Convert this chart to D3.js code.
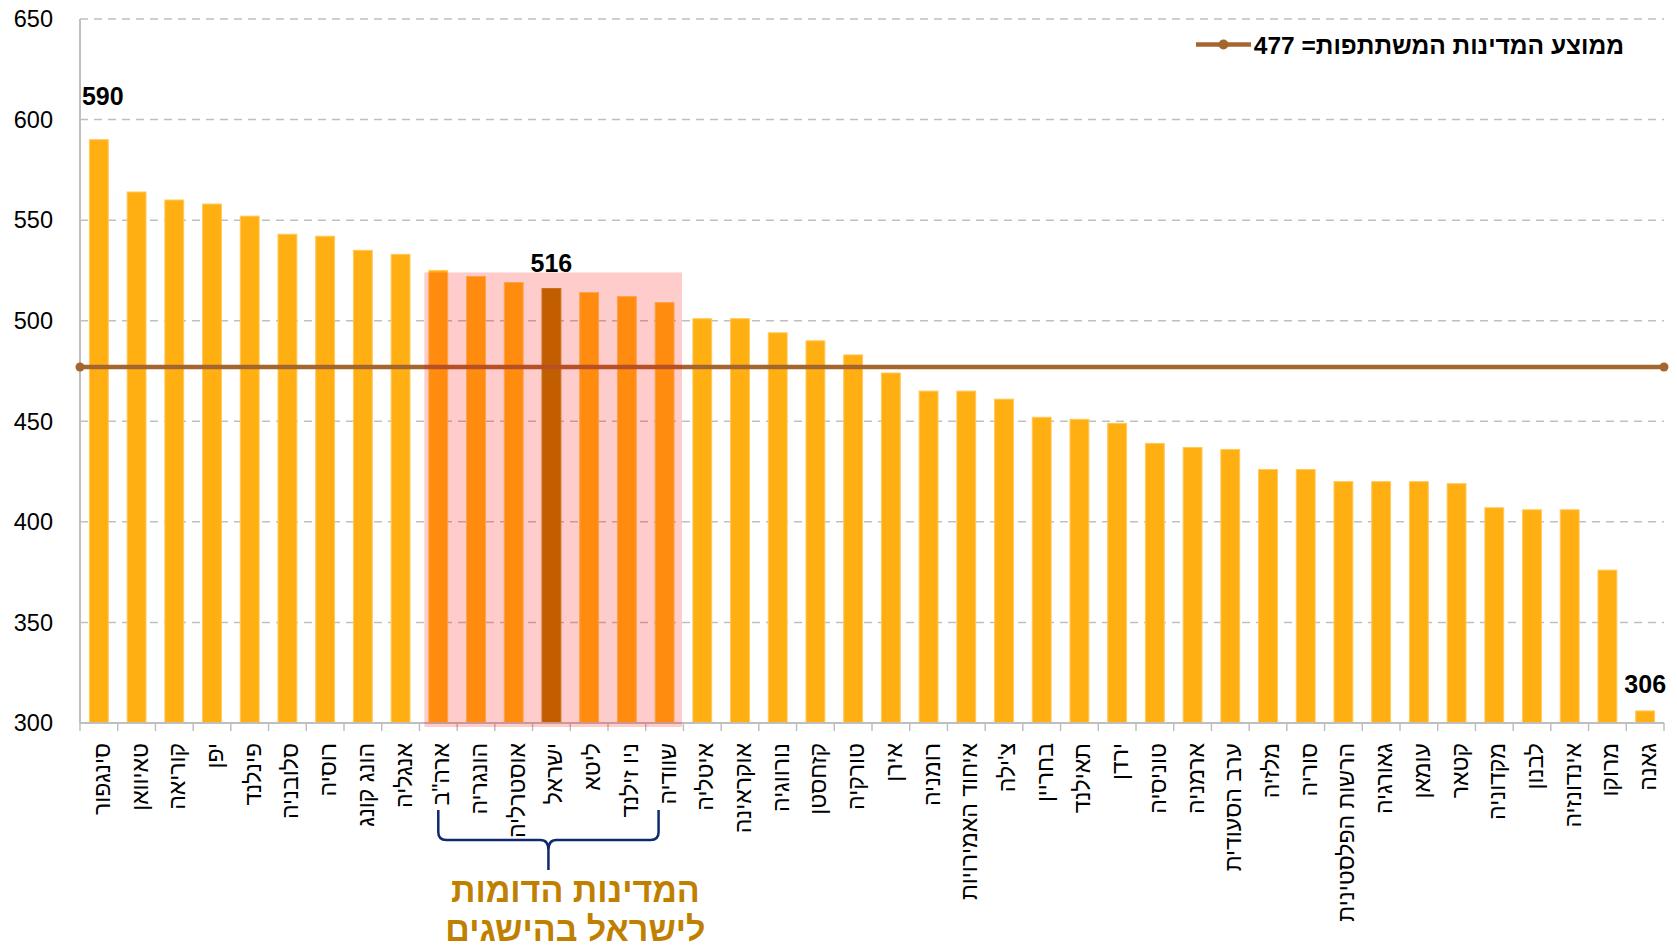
<!DOCTYPE html>
<html>
<head>
<meta charset="utf-8">
<script src="https://cdn.jsdelivr.net/npm/d3@7"></script>
<style>
  body { margin: 0; background: #fff; }
  text { font-family: "Liberation Sans", Arial, sans-serif; }
</style>
</head>
<body>
<svg id="svgx" width="1677" height="948"></svg>
<script>
// data
const countries = ["סינגפור", "טאיוואן", "קוריאה", "יפן", "פינלנד", "סלובניה", "רוסיה", "הונג קונג", "אנגליה",
  "ארה\"ב", "הונגריה", "אוסטרליה", "ישראל", "ליטא", "ניו זילנד", "שוודיה", "איטליה", "אוקראינה", "נורווגיה",
  "קזחסטן", "טורקיה", "אירן", "רומניה", "איחוד האמירויות", "צ'ילה", "בחריין", "תאילנד", "ירדן", "טוניסיה",
  "ארמניה", "ערב הסעודית", "מלזיה", "סוריה", "הרשות הפלסטינית", "גאורגיה", "עומאן", "קטאר", "מקדוניה",
  "לבנון", "אינדונזיה", "מרוקו", "גאנה"];
const scores = [590, 564, 560, 558, 552, 543, 542, 535, 533,
  525, 522, 519, 516, 514, 512, 509, 501, 501, 494,
  490, 483, 474, 465, 465, 461, 452, 451, 449, 439,
  437, 436, 426, 426, 420, 420, 420, 419, 407,
  406, 406, 376, 306];
const similarCountries = ["ארה\"ב", "הונגריה", "אוסטרליה", "ישראל", "ליטא", "ניו זילנד", "שוודיה"];
const highlightCountry = "ישראל";
const avgScore = 477;
const yTicks = [300, 350, 400, 450, 500, 550, 600, 650];
const legendText = "ממוצע המדינות המשתתפות= 477";
const noteLines = ["המדינות הדומות", "לישראל בהישגים"];

const data = countries.map((c, i) => ({ country: c, score: scores[i] }));

// dimensions
var margin = { top: 19, right: 13, bottom: 225, left: 80 };
var widthA = 1677;
var heightA = 948;
const innerWidth = widthA - margin.left - margin.right;
const innerHeight = heightA - margin.top - margin.bottom;

var svg = d3.select('#svgx');
var svg1 = svg.append('g')
  .attr('transform', `translate(${margin.left},${margin.top})`);

//************************************ scales
var xScale = d3.scaleBand().domain(countries).range([0, innerWidth])
  .paddingInner(0.5).paddingOuter(0.25);
var yScale = d3.scaleLinear().domain([300, 650]).range([innerHeight, 0]);
const step = xScale.step();
const cx = c => xScale(c) + xScale.bandwidth() / 2;

//************************************ grid + y axis
svg1.selectAll('.grid').data(yTicks.filter(t => t > 300))
  .enter().append('line')
  .attr('class', 'grid')
  .attr('x1', 0).attr('x2', innerWidth)
  .attr('y1', d => yScale(d)).attr('y2', d => yScale(d))
  .attr('stroke', '#BFBFBF').attr('stroke-width', 1.5)
  .attr('stroke-dasharray', '8,6');

svg1.append('line')
  .attr('x1', 0).attr('x2', 0).attr('y1', 0).attr('y2', innerHeight)
  .attr('stroke', '#BFBFBF').attr('stroke-width', 2);

svg1.selectAll('.ytext').data(yTicks)
  .enter().append('text')
  .attr('class', 'ytext')
  .attr('x', -27)
  .attr('y', d => yScale(d))
  .attr('dy', '0.35em')
  .attr('text-anchor', 'end')
  .style('font-size', '23.5px')
  .attr('fill', '#000')
  .text(d => d);

//************************************ bars
svg1.selectAll('.bar').data(data)
  .enter().append('rect')
  .attr('class', 'bar')
  .attr('x', d => xScale(d.country))
  .attr('width', xScale.bandwidth())
  .attr('y', d => yScale(d.score))
  .attr('height', d => innerHeight - yScale(d.score))
  .attr('fill', d => d.country === highlightCountry ? '#B37600' : '#FFAF12')
  .attr('stroke', d => d.country === highlightCountry ? '#C08A20' : '#FFC95A')
  .attr('stroke-width', 1);

//************************************ average line
const yAvg = yScale(avgScore);
svg1.append('line')
  .attr('x1', 0).attr('x2', innerWidth).attr('y1', yAvg).attr('y2', yAvg)
  .attr('stroke', '#A5652F').attr('stroke-width', 4.5);
svg1.selectAll('.avgdot').data([0, innerWidth])
  .enter().append('circle')
  .attr('class', 'avgdot')
  .attr('cx', d => d).attr('cy', yAvg).attr('r', 4.5)
  .attr('fill', '#A5652F');

//************************************ x axis
svg1.append('line')
  .attr('x1', 0).attr('x2', innerWidth).attr('y1', innerHeight).attr('y2', innerHeight)
  .attr('stroke', '#BFBFBF').attr('stroke-width', 2);
svg1.selectAll('.xtick').data(d3.range(countries.length + 1))
  .enter().append('line')
  .attr('class', 'xtick')
  .attr('x1', i => i * step).attr('x2', i => i * step)
  .attr('y1', innerHeight).attr('y2', innerHeight + 8)
  .attr('stroke', '#BFBFBF').attr('stroke-width', 1.5);

svg1.selectAll('.xlabtext').data(countries)
  .enter().append('text')
  .attr('class', 'xlabtext')
  .attr('transform', d => `translate(${cx(d) + 11},${innerHeight + 20}) rotate(-90)`)
  .attr('text-anchor', 'end')
  .style('font-size', '23px')
  .attr('fill', '#000')
  .text(d => d);

//************************************ similar countries box (semi transparent)
const first = similarCountries[0], last = similarCountries[similarCountries.length - 1];
svg1.append('rect')
  .attr('x', xScale(first) - 4.5)
  .attr('y', yScale(524))
  .attr('width', xScale(last) + xScale.bandwidth() + 8 - (xScale(first) - 4.5))
  .attr('height', innerHeight + 4 - yScale(524))
  .attr('fill', 'rgba(255,0,0,0.2)');

//************************************ value labels
const valLab = (c) => data.find(d => d.country === c);
const sing = valLab(countries[0]);
svg1.append('text')
  .attr('x', xScale(sing.country) - 7.5)
  .attr('y', yScale(sing.score) - 35)
  .attr('text-anchor', 'start')
  .style('font-size', '25px').style('font-weight', 700)
  .text(sing.score);
const isr = valLab(highlightCountry);
svg1.append('text')
  .attr('x', cx(isr.country))
  .attr('y', yScale(isr.score) - 17)
  .attr('text-anchor', 'middle')
  .style('font-size', '25px').style('font-weight', 700)
  .text(isr.score);
const gh = valLab(countries[countries.length - 1]);
svg1.append('text')
  .attr('x', xScale(gh.country) + xScale.bandwidth() + 11.5)
  .attr('y', yScale(gh.score) - 18)
  .attr('text-anchor', 'end')
  .style('font-size', '25px').style('font-weight', 700)
  .text(gh.score);

//************************************ brace
const bx1 = cx(first), bx2 = cx(last) - 6, bxm = cx(highlightCountry) - 3;
const by0 = innerHeight + 87, by1 = innerHeight + 117, by2 = innerHeight + 147;
svg1.append('path')
  .attr('d', `M${bx1},${by0} V${by1 - 8} Q${bx1},${by1} ${bx1 + 8},${by1} H${bxm - 8} Q${bxm},${by1} ${bxm},${by1 + 10} V${by2}
              M${bxm},${by1 + 10} Q${bxm},${by1} ${bxm + 8},${by1} H${bx2 - 8} Q${bx2},${by1} ${bx2},${by1 - 8} V${by0}`)
  .attr('fill', 'none')
  .attr('stroke', '#0F2A6E')
  .attr('stroke-width', 2.5);

svg1.selectAll('.note').data(noteLines)
  .enter().append('text')
  .attr('class', 'note')
  .attr('x', bxm + 27)
  .attr('y', (d, i) => innerHeight + 179 + i * 39)
  .attr('text-anchor', 'middle')
  .style('font-size', '34px').style('font-weight', 700)
  .attr('fill', '#BF8000')
  .text(d => d);

//************************************ legend
var legend = svg.append('g').attr('class', 'legend');
legend.append('line')
  .attr('x1', 1196).attr('x2', 1251).attr('y1', 44.5).attr('y2', 44.5)
  .attr('stroke', '#A5652F').attr('stroke-width', 4.5);
legend.append('circle')
  .attr('cx', 1223.5).attr('cy', 44.5).attr('r', 5)
  .attr('fill', '#A5652F');
legend.append('text')
  .attr('x', 1624).attr('y', 53.5)
  .attr('text-anchor', 'end')
  .style('font-size', '24.5px').style('font-weight', 700)
  .text(legendText);
</script>
</body>
</html>
